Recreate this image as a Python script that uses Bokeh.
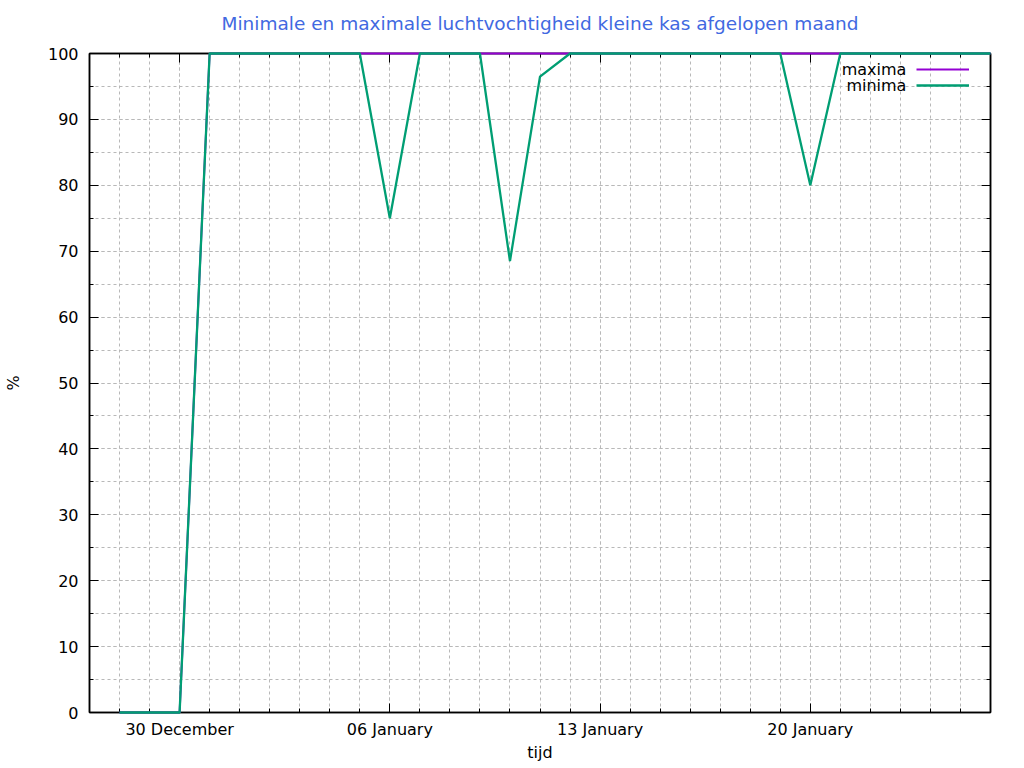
import pandas as pd
from bokeh.plotting import figure
from bokeh.models import (Range1d, FixedTicker, SingleIntervalTicker, DatetimeTickFormatter,
                          LinearAxis, DatetimeAxis, Legend, LegendItem, Label, Title,
                          CustomJSTickFormatter)
from bokeh.embed import file_html
from bokeh.resources import INLINE

# ---------------- data ----------------
dates = ["2023-12-28", "2023-12-29", "2023-12-30", "2023-12-31",
         "2024-01-01", "2024-01-02", "2024-01-03", "2024-01-04", "2024-01-05",
         "2024-01-06", "2024-01-07", "2024-01-08", "2024-01-09", "2024-01-10",
         "2024-01-11", "2024-01-12", "2024-01-13", "2024-01-14", "2024-01-15",
         "2024-01-16", "2024-01-17", "2024-01-18", "2024-01-19", "2024-01-20",
         "2024-01-21", "2024-01-22", "2024-01-23", "2024-01-24", "2024-01-25",
         "2024-01-26"]
maxima = [0, 0, 0, 100,
          100, 100, 100, 100, 100,
          100, 100, 100, 100, 100,
          100, 100, 100, 100, 100,
          100, 100, 100, 100, 100,
          100, 100, 100, 100, 100,
          100]
minima = [0, 0, 0, 100,
          100, 100, 100, 100, 100,
          75, 100, 100, 100, 68.5,
          96.5, 100, 100, 100, 100,
          100, 100, 100, 100, 80,
          100, 100, 100, 100, 100,
          100]
major_tick_dates = ["2023-12-30", "2024-01-06", "2024-01-13", "2024-01-20"]
x_start, x_end = "2023-12-27", "2024-01-26"
y_start, y_end = 0, 100

title_text = "Minimale en maximale luchtvochtigheid kleine kas afgelopen maand"
x_label = "tijd"
y_label = "%"
series_names = ["maxima", "minima"]

# ---------------- helpers ----------------
def ms(d):
    return pd.Timestamp(d).value / 1e6

x = pd.to_datetime(dates)
FONT = "DejaVu Sans"
FS = "16px"
GRID = "#b8b8b8"

title = Title(text=title_text, align="center", text_color="#4169e1", text_font=FONT,
              text_font_size="18.5px", text_font_style="normal", standoff=0,
              vertical_align="bottom",
              padding=dict(left=0, right=0, top=0, bottom=20))

p = figure(width=1008, height=764, x_axis_type="datetime",
           x_range=Range1d(ms(x_start), ms(x_end)), y_range=Range1d(y_start, y_end),
           output_backend="svg", toolbar_location=None, title=title,
           min_border_left=88, min_border_right=18, min_border_top=53, min_border_bottom=40)

p.outline_line_color = "black"
p.outline_line_width = 1.5

minor_days = [ms(d) for d in pd.date_range(x_start, x_end, freq="D")]
xticker = FixedTicker(ticks=[ms(d) for d in major_tick_dates], minor_ticks=minor_days)
yticker = SingleIntervalTicker(interval=10, num_minor_ticks=2)
blank = CustomJSTickFormatter(code="return ''")

def style_axis(ax):
    ax.axis_line_color = "black"
    ax.axis_line_width = 1.5
    ax.major_tick_in = 9
    ax.major_tick_out = 0
    ax.minor_tick_in = 4
    ax.minor_tick_out = 0
    ax.major_tick_line_color = "black"
    ax.minor_tick_line_color = "black"
    ax.major_label_text_font = FONT
    ax.major_label_text_font_size = FS
    ax.major_label_text_color = "black"
    ax.axis_label_text_font = FONT
    ax.axis_label_text_font_size = FS
    ax.axis_label_text_font_style = "normal"
    ax.axis_label_text_color = "black"

xa = p.xaxis[0]
xa.ticker = xticker
xa.formatter = DatetimeTickFormatter(days="%d %B", months="%d %B", hours="%d %B")
style_axis(xa)
xa.major_label_standoff = 7
xa.axis_label = x_label
xa.axis_label_standoff = 1

ya = p.yaxis[0]
ya.ticker = yticker
style_axis(ya)
ya.major_label_standoff = 11
ya.axis_label = y_label
ya.axis_label_standoff = 22

top = DatetimeAxis(ticker=xticker, formatter=blank)
style_axis(top)
top.major_label_standoff = 0
p.add_layout(top, "above")

right = LinearAxis(ticker=yticker, formatter=blank)
style_axis(right)
right.major_label_standoff = 0
p.add_layout(right, "right")

for g in (p.xgrid[0], p.ygrid[0]):
    g.grid_line_color = GRID
    g.grid_line_dash = "3 3"
    g.grid_line_width = 1
    g.minor_grid_line_color = GRID
    g.minor_grid_line_dash = "3 3"
    g.minor_grid_line_width = 1
p.xgrid[0].ticker = xticker
p.ygrid[0].ticker = yticker

r_max = p.line(x, maxima, line_color="#9400d3", line_width=2, level="overlay")
r_min = p.line(x, minima, line_color="#009e73", line_width=2.3, level="overlay")

legend = Legend(items=[LegendItem(label=" ", renderers=[r_max]),
                       LegendItem(label=" ", renderers=[r_min])],
                location="top_right", glyph_width=53, glyph_height=16, label_height=16,
                label_width=13, label_standoff=0, padding=0, spacing=0, margin=8,
                border_line_alpha=0, background_fill_alpha=0, label_text_font_size="6px")
p.add_layout(legend)

lx = ms("2024-01-23") + 4.8 * 3600e3
for name, yy in zip(series_names, [97.6, 95.1]):
    p.add_layout(Label(x=lx, y=yy, text=name, text_align="right", text_baseline="middle",
                       text_font=FONT, text_font_size=FS, text_color="black"))

open("out.html", "w").write(file_html(p, INLINE))
